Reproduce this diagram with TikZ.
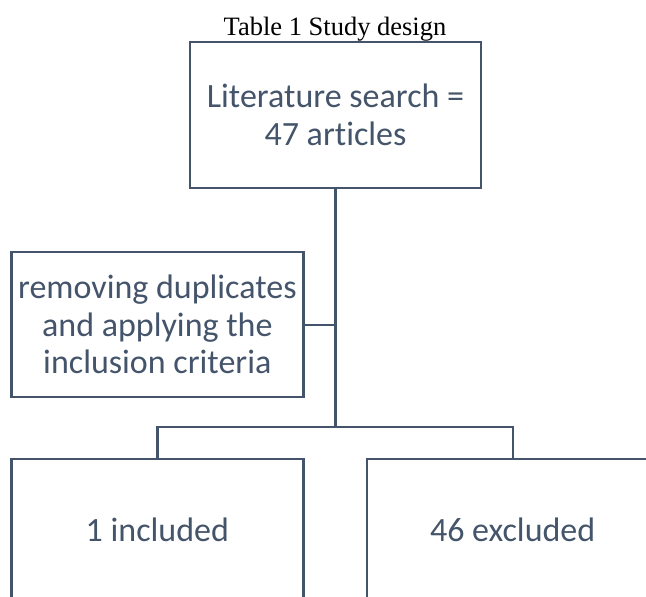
\documentclass[tikz,border=0pt]{standalone}
\usepackage{fontspec}
\setmainfont{Liberation Serif}
\setsansfont{Carlito}[Ligatures=NoCommon]
\usepackage{tikz}
\usetikzlibrary{positioning}
\definecolor{Slate}{HTML}{44546A}
\tikzset{
  blk/.style={draw=Slate, line width=2.3pt, align=center, text=Slate, inner sep=2pt,
              font=\sffamily\fontsize{34}{37.5}\selectfont,
              minimum width=292pt, minimum height=145pt},
  lnk/.style={draw=Slate, line width=2.3pt}
}
\begin{document}
\begin{tikzpicture}[x=1pt,y=1pt]
  \useasboundingbox (0,0) rectangle (646,-597);
  \clip (0,0) rectangle (646,-597);
  \node[font=\fontsize{26.5}{30}\selectfont, anchor=base] (title) at (335,-35) {Table 1 Study design};
  \node[blk, minimum width=291pt, minimum height=146pt] (lit) at (335.5,-115) {Literature search =\\47 articles};
  \node[blk, below left=62pt and 31pt of lit.south] (dup) {removing duplicates\\and applying the\\inclusion criteria};
  \coordinate[below=238pt of lit.south] (fork);
  \node[blk, minimum height=142pt, below left=31pt and 31pt of fork] (inc) {1 included};
  \node[blk, minimum height=142pt, below right=31pt and 30pt of fork] (exc) {46 excluded};
  \draw[lnk] (lit.south) -- (fork);
  \draw[lnk] (dup.east) -- (dup.east -| fork);
  \draw[lnk] (inc.north) |- (fork) -| (exc.north);
\end{tikzpicture}
\end{document}
